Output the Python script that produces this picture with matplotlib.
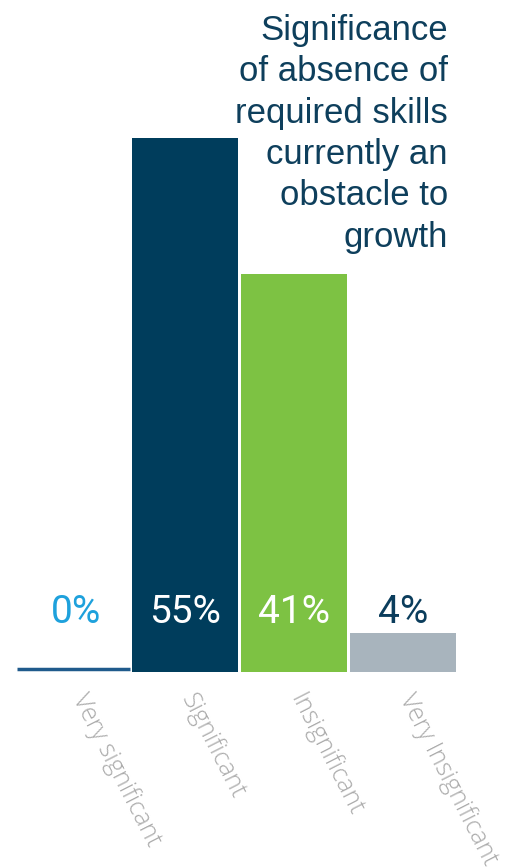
import matplotlib
matplotlib.use("Agg")
from matplotlib import pyplot as plt

# Survey answers and their shares (%)
categories = ["Very significant", "Significant", "Insignificant", "Very Insignificant"]
shares = [0, 55, 41, 4]
share_labels = ["0%", "55%", "41%", "4%"]
title = "Significance\nof absence of\nrequired skills\ncurrently an\nobstacle to\ngrowth"

bar_colors = ["#1f5a8c", "#003d5c", "#7dc243", "#a8b4bd"]
label_colors = ["#1ea1dc", "#ffffff", "#ffffff", "#0b3d5c"]

fig = plt.figure(figsize=(5.1, 8.68), dpi=100)
ax = fig.add_axes([0, 0, 1, 1])

x = list(range(len(categories)))
bars = ax.bar(x, shares, width=0.97, color=bar_colors, linewidth=0)

# the zero bar is shown as a thin rule on the baseline
ax.hlines(0.3, -0.54, 0.5, color=bar_colors[0], linewidth=2.5)

# percentage labels sit just above the baseline
for xi, lab, col in zip(x, share_labels, label_colors):
    ax.text(xi, 6.1, lab, ha="center", va="center", color=col,
            fontsize=28, family="Roboto", fontweight="normal")

# slanted category names under the bars
for xi, cat in zip(x, categories):
    ax.text(xi + 0.02, -2.4, cat, ha="left", va="center", rotation=-63,
            rotation_mode="anchor", color="#ababab", fontsize=18,
            family="Open Sans", fontweight="light")

ax.text(448 / 510, 1 - 14 / 868, title, transform=ax.transAxes,
        ha="right", va="top", color="#0e3f5c", fontsize=25,
        family="Liberation Sans", linespacing=1.32)

ax.set_xlim(-0.697, 3.982)
ax.set_ylim(-20.19, 69.2)
ax.axis("off")

fig.savefig("out.png", dpi=100)
